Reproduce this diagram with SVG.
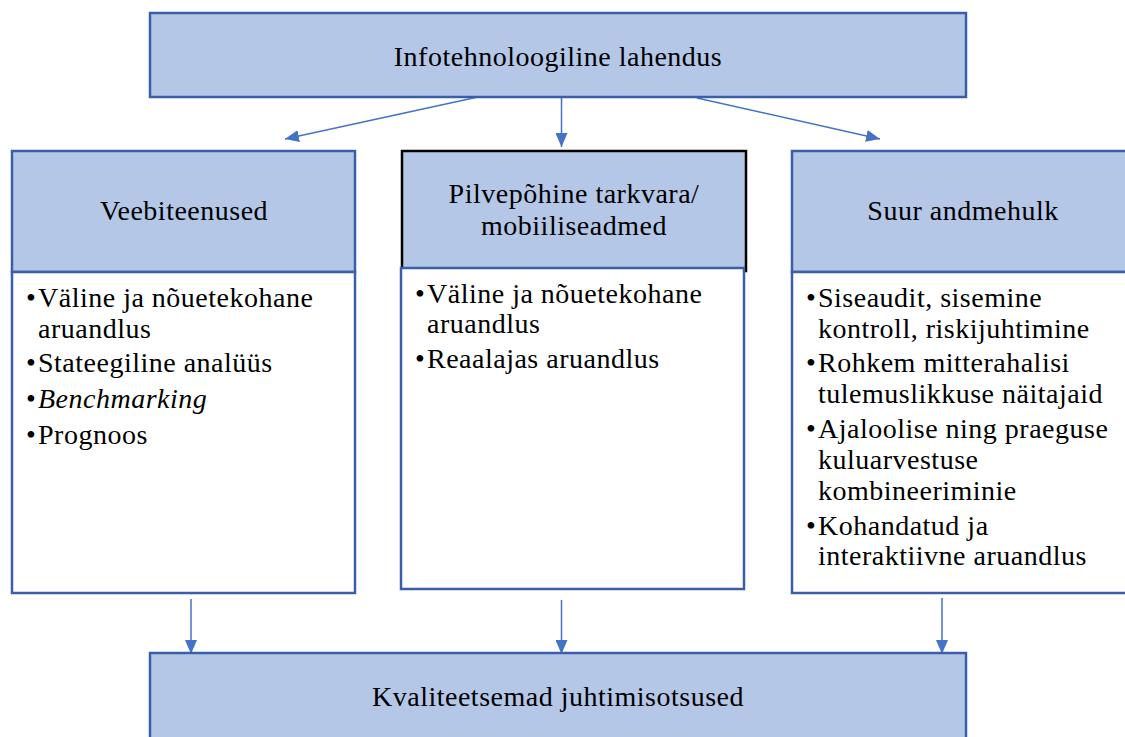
<svg xmlns="http://www.w3.org/2000/svg" width="1125" height="737" viewBox="0 0 1125 737">
<style>
.box{fill:#B4C7E7;stroke:#3A5FA8;stroke-width:2.5}
.body{fill:#FFFFFF;stroke:#3A5FA8;stroke-width:2.5}
.hdr{fill:#B4C7E7;stroke:#000000;stroke-width:2.5}
.t{font-family:'Liberation Serif','DejaVu Serif',serif;font-size:28px;letter-spacing:0.5px;fill:#000}
.c{text-anchor:middle}
.con{stroke:#4472C4;stroke-width:1.5;fill:none;marker-end:url(#ah)}
</style>
<defs>
<marker id="ah" viewBox="0 0 14 12" refX="14" refY="6" markerWidth="14" markerHeight="12" markerUnits="userSpaceOnUse" orient="auto">
<path d="M0,0 L14,6 L0,12 Z" fill="#4472C4"/>
</marker>
</defs>
<g id="connectors">
<line class="con" x1="478" y1="97" x2="285" y2="139"/>
<line class="con" x1="561.5" y1="97" x2="561.5" y2="147"/>
<line class="con" x1="697" y1="98" x2="880" y2="139"/>
<line class="con" x1="191" y1="599" x2="191" y2="654"/>
<line class="con" x1="561.5" y1="600" x2="561.5" y2="654"/>
<line class="con" x1="942" y1="598" x2="942" y2="654"/>
</g>
<g class="t">
<g id="top">
<rect class="box" x="150" y="13" width="816" height="84"/>
<text class="c" x="558" y="66">Infotehnoloogiline lahendus</text>
</g>
<g id="veebiteenused">
<rect class="box" x="12" y="151" width="343" height="121"/>
<rect class="body" x="12" y="272" width="343" height="321"/>
<text class="c" x="184" y="220">Veebiteenused</text>
<text x="26" y="307">•</text><text x="38" y="307">Väline ja nõuetekohane</text>
<text x="38" y="338">aruandlus</text>
<text x="26" y="372">•</text><text x="38" y="372">Stateegiline analüüs</text>
<text x="26" y="408">•</text><text x="38" y="408" font-style="italic">Benchmarking</text>
<text x="26" y="444">•</text><text x="38" y="444">Prognoos</text>
</g>
<g id="pilv">
<rect class="hdr" x="402" y="151" width="344" height="120"/>
<rect class="body" x="401" y="268" width="343" height="321"/>
<text class="c" x="574" y="203">Pilvepõhine tarkvara/</text>
<text class="c" x="574" y="235">mobiiliseadmed</text>
<text x="415" y="303">•</text><text x="427" y="303">Väline ja nõuetekohane</text>
<text x="427" y="333">aruandlus</text>
<text x="415" y="368">•</text><text x="427" y="368">Reaalajas aruandlus</text>
</g>
<g id="suur">
<rect class="box" x="792" y="151" width="345" height="121"/>
<rect class="body" x="792" y="272" width="345" height="321"/>
<text class="c" x="963" y="220">Suur andmehulk</text>
<text x="806" y="307">•</text><text x="818" y="307">Siseaudit, sisemine</text>
<text x="818" y="338">kontroll, riskijuhtimine</text>
<text x="806" y="372">•</text><text x="818" y="372">Rohkem mitterahalisi</text>
<text x="818" y="403">tulemuslikkuse näitajaid</text>
<text x="806" y="438">•</text><text x="818" y="438">Ajaloolise ning praeguse</text>
<text x="818" y="469">kuluarvestuse</text>
<text x="818" y="500">kombineeriminie</text>
<text x="806" y="535">•</text><text x="818" y="535">Kohandatud ja</text>
<text x="818" y="565">interaktiivne aruandlus</text>
</g>
<g id="bottom">
<rect class="box" x="150" y="653" width="816" height="100"/>
<text class="c" x="558" y="706">Kvaliteetsemad juhtimisotsused</text>
</g>
</g>
</svg>
